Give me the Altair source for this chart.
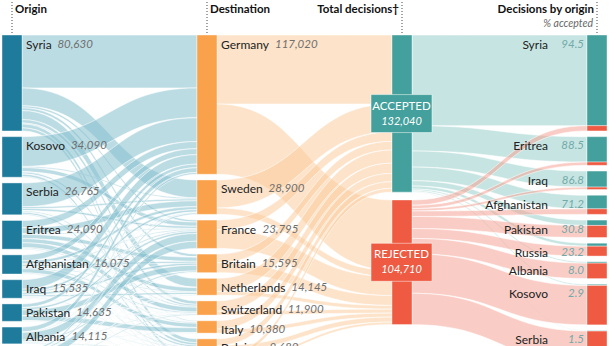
import altair as alt
import numpy as np
import pandas as pd

# ---------------- data ----------------
origins = ["Syria", "Kosovo", "Serbia", "Eritrea", "Afghanistan", "Iraq", "Pakistan", "Albania", "Russia"]
origin_totals = [80630, 34090, 26765, 24090, 16075, 15535, 14635, 14115, 10815]

destinations = ["Germany", "Sweden", "France", "Britain", "Netherlands", "Switzerland", "Italy", "Belgium", "Others"]
dest_totals = [117020, 28900, 23795, 15595, 14145, 11900, 10380, 9680, 5335]

# estimated flows origin -> destination (columns in destination order)
flow_syria = [44520, 15000, 1695, 2295, 7545, 2900, 780, 3280, 2615]
flow_kosovo = [25000, 1000, 3500, 200, 100, 1500, 200, 2000, 590]
flow_serbia = [20000, 1500, 1800, 100, 100, 900, 300, 1500, 565]
flow_eritrea = [6000, 5000, 700, 3500, 3500, 4000, 800, 200, 390]
flow_afghanistan = [5000, 2500, 800, 1500, 800, 1000, 3500, 700, 275]
flow_iraq = [8000, 2000, 1000, 1800, 1500, 200, 300, 500, 235]
flow_pakistan = [3000, 200, 1800, 4800, 100, 100, 4000, 400, 235]
flow_albania = [4000, 500, 6500, 1200, 200, 500, 300, 600, 315]
flow_russia = [1500, 1200, 6000, 200, 300, 800, 200, 500, 115]

# estimated accepted decisions by destination
dest_accepted = [58000, 23500, 7900, 7300, 11000, 8600, 7000, 5500, 3240]

decision_labels = ["ACCEPTED", "REJECTED"]
decision_totals = [132040, 104710]

right_order = ["Syria", "Eritrea", "Iraq", "Afghanistan", "Pakistan", "Russia", "Albania", "Kosovo", "Serbia"]
pct_accepted = [94.5, 88.5, 86.8, 71.2, 30.8, 23.2, 8.0, 2.9, 1.5]

# ---------------- layout / style ----------------
FONT = "Lato"
D = 261345          # data units shown over plot height
GAP = 4800
DEC_GAP = 6600
XO = (2, 22)
XD = (197, 217)
XC = (392, 412)
XR = (587, 607)

C_ORIG = "#1f7b9b"
C_DEST = "#f9a24b"
C_ACC = "#44a09c"
C_REJ = "#ee5a42"
LINK_COLOR = {"o": "#85bfce", "d": "#fbcc9d", "a": "#97d0cb", "r": "#f4a496"}

flows = [flow_syria, flow_kosovo, flow_serbia, flow_eritrea, flow_afghanistan,
         flow_iraq, flow_pakistan, flow_albania, flow_russia]

def tops(values, gap):
    out, c = [], 0
    for v in values:
        out.append(c)
        c += v + gap
    return out

orig_top = tops(origin_totals, GAP)
dest_top = tops(dest_totals, GAP)
dec_top = tops(decision_totals, DEC_GAP)
tot_by_origin = dict(zip(origins, origin_totals))
right_totals = [tot_by_origin[o] for o in right_order]
right_top = tops(right_totals, GAP)
right_acc = [t * p / 100 for t, p in zip(right_totals, pct_accepted)]
right_rej = [t - a for t, a in zip(right_totals, right_acc)]

S = np.linspace(0, 1, 33)
rows = []
lid = [0]

def add_link(x0, x1, s0, s1, t0, t1, grp):
    lid[0] += 1
    bx = 1.5 * S * (1 - S) + S ** 3
    by = 3 * S ** 2 - 2 * S ** 3
    for k in range(len(S)):
        rows.append({"link": lid[0], "col": LINK_COLOR[grp],
                     "x": float(x0 + (x1 - x0) * bx[k]),
                     "ya": float(s0 + (t0 - s0) * by[k]),
                     "yb": float(s1 + (t1 - s1) * by[k])})

# origin -> destination; targets ordered by origin within each destination
tgt = {}
for j in range(len(destinations)):
    c = dest_top[j]
    for i in range(len(origins)):
        tgt[(i, j)] = c
        c += flows[i][j]
for i in range(len(origins)):
    oc = orig_top[i]
    for j in range(len(destinations)):
        f = flows[i][j]
        add_link(XO[1], XD[0], oc, oc + f, tgt[(i, j)], tgt[(i, j)] + f, "o")
        oc += f

# destination -> decision
acur, rcur = dec_top[0], dec_top[1]
for j in range(len(destinations)):
    a = dest_accepted[j]
    r = dest_totals[j] - a
    t = dest_top[j]
    add_link(XD[1], XC[0], t, t + a, acur, acur + a, "d")
    acur += a
    add_link(XD[1], XC[0], t + a, t + a + r, rcur, rcur + r, "d")
    rcur += r

# decision -> origin (right)
acur, rcur = dec_top[0], dec_top[1]
for k in range(len(right_order)):
    a, t = right_acc[k], right_top[k]
    add_link(XC[1], XR[0], acur, acur + a, t, t + a, "a")
    acur += a
for k in range(len(right_order)):
    a, r, t = right_acc[k], right_rej[k], right_top[k]
    add_link(XC[1], XR[0], rcur, rcur + r, t + a, t + a + r, "r")
    rcur += r

links = pd.DataFrame(rows)

# nodes
nodes = []
for i, o in enumerate(origins):
    nodes.append({"x": XO[0], "x2": XO[1], "y": orig_top[i], "y2": orig_top[i] + origin_totals[i], "col": C_ORIG})
for j, d in enumerate(destinations):
    nodes.append({"x": XD[0], "x2": XD[1], "y": dest_top[j], "y2": dest_top[j] + dest_totals[j], "col": C_DEST})
for k, lab in enumerate(decision_labels):
    nodes.append({"x": XC[0], "x2": XC[1], "y": dec_top[k], "y2": dec_top[k] + decision_totals[k],
                  "col": C_ACC if k == 0 else C_REJ})
for k in range(len(right_order)):
    t = right_top[k]
    nodes.append({"x": XR[0], "x2": XR[1], "y": t, "y2": t + right_acc[k], "col": C_ACC})
    nodes.append({"x": XR[0], "x2": XR[1], "y": t + right_acc[k], "y2": t + right_totals[k], "col": C_REJ})
nodes = pd.DataFrame(nodes)

# approximate text widths for placing the italic numbers after the names
W = {"a": .51, "b": .56, "c": .46, "d": .56, "e": .53, "f": .32, "g": .50, "h": .56, "i": .24, "j": .24,
     "k": .50, "l": .24, "m": .84, "n": .56, "o": .56, "p": .56, "q": .56, "r": .36, "s": .42, "t": .34,
     "u": .56, "v": .49, "w": .76, "x": .48, "y": .49, "z": .44, "A": .67, "B": .64, "C": .65, "D": .73,
     "E": .56, "F": .54, "G": .71, "I": .28, "K": .65, "N": .75, "O": .78, "P": .60, "R": .62, "S": .52}
def tw(txt, size):
    return sum(W.get(ch, .55) for ch in txt) * size

FS = 12
lab = []
for i, o in enumerate(origins):
    lab.append({"name": o, "val": f"{origin_totals[i]:,}", "x": XO[1] + 4,
                "xv": XO[1] + 4 + tw(o, FS) + 6, "y": orig_top[i]})
for j, d in enumerate(destinations):
    lab.append({"name": d, "val": f"{dest_totals[j]:,}", "x": XD[1] + 4,
                "xv": XD[1] + 4 + tw(d, FS) + 6, "y": dest_top[j]})
lab = pd.DataFrame(lab)

rlab = pd.DataFrame({"name": right_order, "pct": [f"{p:.1f}" for p in pct_accepted],
                     "y": right_top})

dec = pd.DataFrame({"lab": decision_labels, "val": [f"{v:,}" for v in decision_totals],
                    "mid": [t + v / 2 for t, v in zip(dec_top, decision_totals)],
                    "col": [C_ACC, C_REJ]})

XS = alt.Scale(domain=[0, 616], nice=False, zero=False)
X = alt.X("x:Q", scale=XS, axis=None)
YS = alt.Scale(domain=[0, D], reverse=True, nice=False, zero=False)

link_layer = alt.Chart(links).mark_area(
    fillOpacity=0.55, stroke="white", strokeWidth=0.6, strokeOpacity=0.9, interpolate="linear"
).encode(
    x=X,
    y=alt.Y("ya:Q", scale=YS, axis=None, stack=None),
    y2="yb:Q",
    detail="link:N",
    color=alt.Color("col:N", scale=None),
)

node_layer = alt.Chart(nodes).mark_rect(stroke="white", strokeWidth=0.4).encode(
    x=X, x2="x2:Q",
    y=alt.Y("y:Q", scale=YS, axis=None), y2="y2:Q",
    color=alt.Color("col:N", scale=None),
)

name_layer = alt.Chart(lab).mark_text(align="left", baseline="middle", dy=9.5, font=FONT,
                                      fontSize=FS, color="#222222").encode(
    x=X, y=alt.Y("y:Q", scale=YS, axis=None), text="name:N")
val_layer = alt.Chart(lab).mark_text(align="left", baseline="middle", dy=9.5, font=FONT,
                                     fontSize=11.5, fontStyle="italic", color="#6f6f6f").encode(
    x=alt.X("xv:Q", scale=XS, axis=None),
    y=alt.Y("y:Q", scale=YS, axis=None), text="val:N")

rname_layer = alt.Chart(rlab).mark_text(align="right", baseline="middle", dy=9.5, font=FONT,
                                        fontSize=FS, color="#222222").encode(
    x=alt.value(548), y=alt.Y("y:Q", scale=YS, axis=None), text="name:N")
rpct_layer = alt.Chart(rlab).mark_text(align="right", baseline="middle", dy=9.5, font=FONT,
                                       fontSize=11.5, fontStyle="italic", color="#72a9a9").encode(
    x=alt.value(584), y=alt.Y("y:Q", scale=YS, axis=None), text="pct:N")

box_layer = alt.Chart(dec).mark_rect(yOffset=-19, y2Offset=19, stroke="white", strokeWidth=0.5).encode(
    x=alt.value(371), x2=alt.value(432),
    y=alt.Y("mid:Q", scale=YS, axis=None), y2="mid:Q",
    color=alt.Color("col:N", scale=None),
)
box_t1 = alt.Chart(dec).mark_text(align="center", baseline="middle", dy=-7, font=FONT, fontSize=11.5,
                                  color="white").encode(
    x=alt.value(401.5), y=alt.Y("mid:Q", scale=YS, axis=None), text="lab:N")
box_t2 = alt.Chart(dec).mark_text(align="center", baseline="middle", dy=8, font=FONT, fontSize=11,
                                  fontStyle="italic", color="white").encode(
    x=alt.value(401.5), y=alt.Y("mid:Q", scale=YS, axis=None), text="val:N")

headers = pd.DataFrame({
    "t": ["Origin", "Destination", "Total decisions\u2020", "Decisions by origin"],
    "x": [15, 210, 399, 594],
    "al": ["left", "left", "right", "right"],
})
hdr_l = alt.Chart(headers[headers.al == "left"]).mark_text(
    align="left", baseline="middle", font=FONT, fontSize=11.5, fontWeight="bold", color="#111111"
).encode(x=X, y=alt.value(-25), text="t:N")
hdr_r = alt.Chart(headers[headers.al == "right"]).mark_text(
    align="right", baseline="middle", font=FONT, fontSize=11.5, fontWeight="bold", color="#111111"
).encode(x=X, y=alt.value(-25), text="t:N")
sub = alt.Chart(pd.DataFrame({"t": ["% accepted"], "x": [593]})).mark_text(
    align="right", baseline="middle", font=FONT, fontSize=10.5, fontStyle="italic", color="#666666"
).encode(x=X, y=alt.value(-11), text="t:N")

rules = alt.Chart(pd.DataFrame({"x": [12, 207, 402, 597]})).mark_rule(
    strokeDash=[1, 2], strokeWidth=1.2, color="#666666"
).encode(x=X, y=alt.value(-33), y2=alt.value(0))

chart = alt.layer(
    link_layer, node_layer, rules, name_layer, val_layer, rname_layer, rpct_layer,
    box_layer, box_t1, box_t2, hdr_l, hdr_r, sub
).properties(
    width=616, height=311,
    padding={"left": 0, "top": 35, "right": 0, "bottom": 0},
    autosize=alt.AutoSizeParams(type="none"),
    background="white",
).configure_view(stroke=None)

chart.save("out.html", embed_options={"renderer": "svg", "actions": False})
